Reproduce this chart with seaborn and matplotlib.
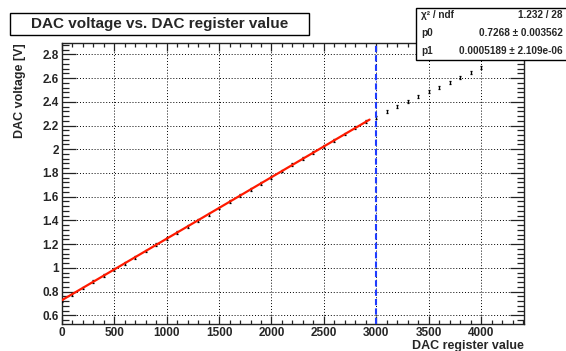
import numpy as np
import matplotlib
matplotlib.use("Agg")
import matplotlib.pyplot as plt
from matplotlib.patches import Rectangle
from matplotlib.ticker import MultipleLocator, FuncFormatter
import seaborn as sns

# measured points (DAC register value, DAC voltage [V])
dac_fit = [0, 100, 200, 300, 400, 500, 600, 700, 800, 900,
           1000, 1100, 1200, 1300, 1400, 1500, 1600, 1700, 1800, 1900,
           2000, 2100, 2200, 2300, 2400, 2500, 2600, 2700, 2800, 2900]
volt_fit = [0.727, 0.779, 0.831, 0.882, 0.934, 0.986, 1.038, 1.090, 1.142, 1.194,
            1.246, 1.298, 1.349, 1.401, 1.453, 1.505, 1.557, 1.609, 1.661, 1.713,
            1.765, 1.816, 1.868, 1.920, 1.972, 2.024, 2.076, 2.128, 2.180, 2.232]
dac_sat = [3000, 3100, 3200, 3300, 3400, 3500, 3600, 3700, 3800, 3900, 4000]
volt_sat = [2.266, 2.316, 2.358, 2.400, 2.442, 2.485, 2.524, 2.566, 2.603, 2.648, 2.687]
volt_err = 0.012

# linear fit result
p0, p0_err = 0.7268, 0.003562
p1, p1_err = 0.0005189, 2.109e-06
chi2, ndf = 1.232, 28
fit_range = [0, 2935]
cut_value = 3000

sns.set_theme(style="white")
plt.rcParams["font.family"] = ["Liberation Sans", "DejaVu Sans"]
plt.rcParams["font.weight"] = "bold"

W, H = 566, 351
fig = plt.figure(figsize=(W / 100, H / 100), dpi=100)
ax = fig.add_axes([61.7 / W, 1 - 324 / H, (524.3 - 61.7) / W, (324 - 43.3) / H])

dac_all = dac_fit + dac_sat
volt_all = volt_fit + volt_sat
ax.errorbar(dac_all, volt_all, yerr=volt_err, fmt="none", ecolor="black",
            elinewidth=0.9, capsize=0.8, capthick=0.9, zorder=3)

fx = np.array(fit_range)
sns.lineplot(x=fx, y=p0 + p1 * fx, color="#ff1a00", lw=1.6, ax=ax, zorder=4)

ax.axvline(cut_value, color="#1f3cff", lw=1.5, ls=(0, (3, 1.5)), zorder=5)

ax.set_xlim(0, 4410)
ax.set_ylim(0.527, 2.893)
ax.xaxis.set_major_locator(MultipleLocator(500))
ax.xaxis.set_minor_locator(MultipleLocator(100))
ax.yaxis.set_major_locator(MultipleLocator(0.2))
ax.yaxis.set_minor_locator(MultipleLocator(0.04))
ax.yaxis.set_major_formatter(FuncFormatter(lambda v, _: f"{v:g}"))
ax.xaxis.set_major_formatter(FuncFormatter(lambda v, _: f"{v:g}"))

ax.grid(True, which="major", color="black", ls=(0, (1, 2)), lw=0.7)
ax.tick_params(axis="x", which="major", direction="in", length=6, width=0.9,
               top=True, bottom=True, labelsize=8.5, pad=2, color="#222222")
ax.tick_params(axis="x", which="minor", direction="in", length=3, width=0.9,
               top=True, bottom=True, color="#222222")
ax.tick_params(axis="y", which="major", direction="in", length=10, width=0.9,
               left=True, right=True, labelsize=8.5, pad=2, color="#222222")
ax.tick_params(axis="y", which="minor", direction="in", length=5, width=0.9,
               left=True, right=True, color="#222222")
for s in ax.spines.values():
    s.set_color("#222222")
    s.set_linewidth(1.0)

ax.set_xlabel("")
ax.set_ylabel("")
fig.text(524 / W, 1 - 345.5 / H, "DAC register value", ha="right", va="center",
         fontsize=9, fontweight="bold")
fig.text(20 / W, 1 - 43 / H, "DAC voltage [V]", ha="center", va="top",
         rotation=90, fontsize=9, fontweight="bold")

# title box
fig.add_artist(Rectangle((10 / W, 1 - 35 / H), 299 / W, 22 / H, transform=fig.transFigure,
                         facecolor="white", edgecolor="black", lw=1))
fig.text(159.5 / W, 1 - 24 / H, "DAC voltage vs. DAC register value", ha="center",
         va="center", fontsize=11, fontweight="bold")

# stats box
fig.add_artist(Rectangle((416 / W, 1 - 60 / H), 160 / W, 52 / H, transform=fig.transFigure,
                         facecolor="white", edgecolor="black", lw=1, zorder=10))
rows = [("χ² / ndf", f"{chi2:.3f} / {ndf}"),
        ("p0", f"{p0:.4f} ± {p0_err:.6f}"),
        ("p1", f"{p1:.7f} ± {p1_err:.3e}")]
for (lab, val), yy in zip(rows, [17.5, 36, 53.5]):
    fig.text(421 / W, 1 - yy / H, lab, ha="left", va="baseline", fontsize=7.2,
             fontweight="bold", zorder=11)
    fig.text(563 / W, 1 - yy / H, val, ha="right", va="baseline", fontsize=7.2,
             fontweight="bold", zorder=11)

fig.savefig("out.png", dpi=100)
